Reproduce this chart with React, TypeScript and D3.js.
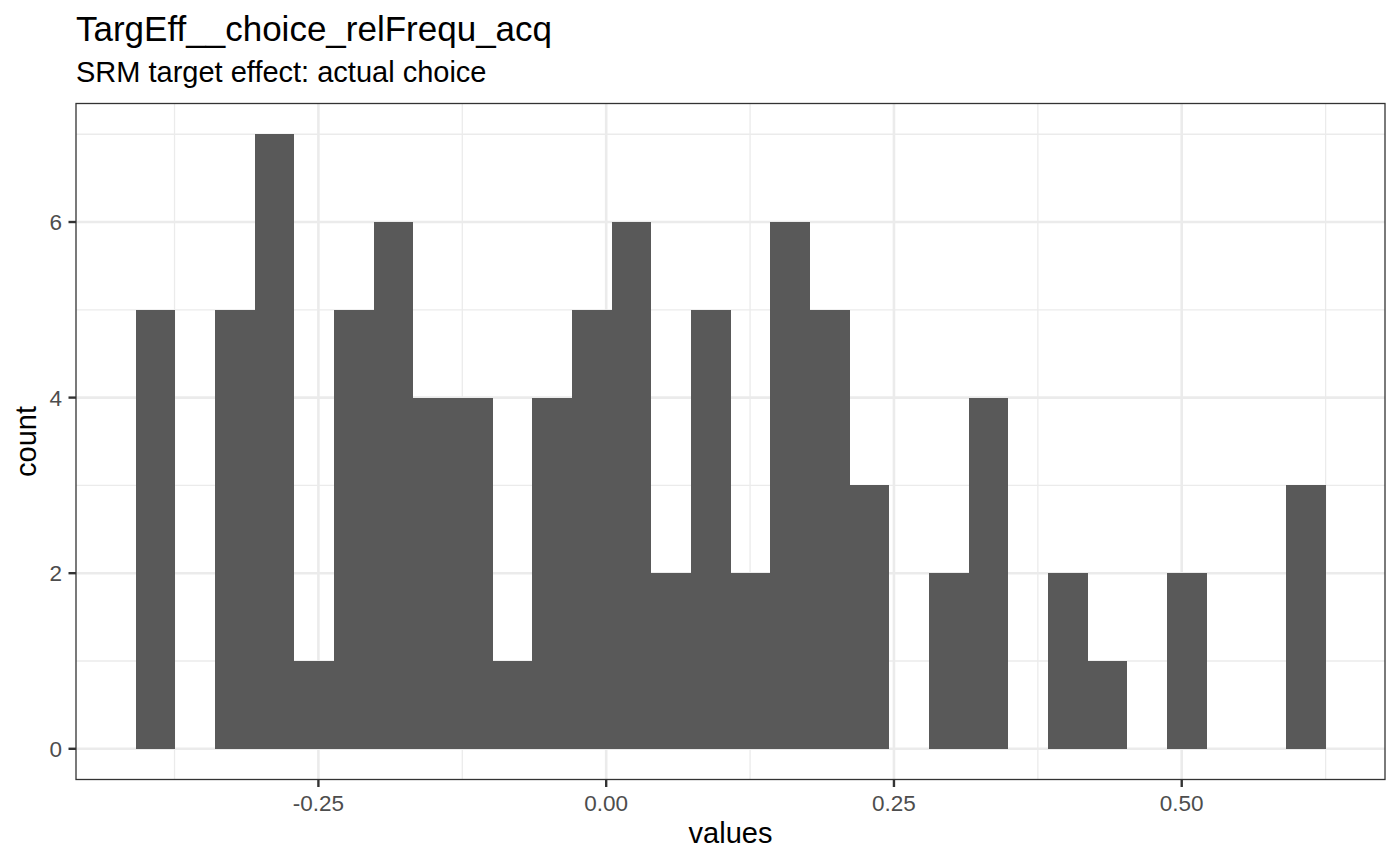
import React, { useEffect } from "react";
import * as d3 from "d3";

// ---- data ----
const titleText = "TargEff__choice_relFrequ_acq";
const subtitleText = "SRM target effect: actual choice";
const xLabel = "values";
const yLabel = "count";
const binStart = -0.4089;
const binWidth = 0.03446;
const counts = [5, 0, 5, 7, 1, 5, 6, 4, 4, 1, 4, 5, 6, 2, 5, 2, 6, 5, 3, 0, 2, 4, 0, 2, 1, 0, 2, 0, 0, 3];
const xTicks = [-0.25, 0, 0.25, 0.5];
const xTickLabels = ["-0.25", "0.00", "0.25", "0.50"];
const xMinor = [-0.375, -0.125, 0.125, 0.375, 0.625];
const yTicks = [0, 2, 4, 6];
const yMinor = [1, 3, 5, 7];

const W = 1400;
const H = 865;
const panel = { left: 76, right: 1385, top: 103.5, bottom: 779.5 };
const font = "'Liberation Sans', Arial, Helvetica, sans-serif";

export default function App() {
  useEffect(() => {
    document.body.style.margin = "0";
  }, []);

  const bins = counts.map((c, i) => ({
    x0: binStart + i * binWidth,
    x1: binStart + (i + 1) * binWidth,
    count: c,
  }));
  const dataMin = bins[0].x0;
  const dataMax = bins[bins.length - 1].x1;
  const xPad = (dataMax - dataMin) * 0.05;
  const yMax = d3.max(counts) as number;
  const yPad = yMax * 0.05;

  const x = d3.scaleLinear().domain([dataMin - xPad, dataMax + xPad]).range([panel.left, panel.right]);
  const y = d3.scaleLinear().domain([-yPad, yMax + yPad]).range([panel.bottom, panel.top]);

  return (
    <svg width={W} height={H} style={{ display: "block" }} xmlns="http://www.w3.org/2000/svg">
      <rect x={0} y={0} width={W} height={H} fill="#ffffff" />
      {/* grid */}
      <g>
        {xMinor.map((v) => (
          <line key={"xm" + v} x1={x(v)} x2={x(v)} y1={panel.top} y2={panel.bottom} stroke="#EBEBEB" strokeWidth={1.3} />
        ))}
        {yMinor.map((v) => (
          <line key={"ym" + v} x1={panel.left} x2={panel.right} y1={y(v)} y2={y(v)} stroke="#EBEBEB" strokeWidth={1.3} />
        ))}
        {xTicks.map((v) => (
          <line key={"xM" + v} x1={x(v)} x2={x(v)} y1={panel.top} y2={panel.bottom} stroke="#EBEBEB" strokeWidth={2.6} />
        ))}
        {yTicks.map((v) => (
          <line key={"yM" + v} x1={panel.left} x2={panel.right} y1={y(v)} y2={y(v)} stroke="#EBEBEB" strokeWidth={2.6} />
        ))}
      </g>
      {/* bars */}
      <g shapeRendering="crispEdges">
        {bins
          .filter((b) => b.count > 0)
          .map((b, i) => (
            <rect
              key={i}
              x={x(b.x0)}
              width={x(b.x1) - x(b.x0)}
              y={y(b.count)}
              height={y(0) - y(b.count)}
              fill="#595959"
            />
          ))}
      </g>
      {/* panel border */}
      <rect
        x={panel.left}
        y={panel.top}
        width={panel.right - panel.left}
        height={panel.bottom - panel.top}
        fill="none"
        stroke="#333333"
        strokeWidth={1.3}
      />
      {/* x axis ticks */}
      <g>
        {xTicks.map((v, i) => (
          <g key={"xt" + v}>
            <line x1={x(v)} x2={x(v)} y1={panel.bottom} y2={panel.bottom + 7.5} stroke="#333333" strokeWidth={2.4} />
            <text x={x(v)} y={811} textAnchor="middle" fontFamily={font} fontSize={22.5} fill="#4D4D4D">
              {xTickLabels[i]}
            </text>
          </g>
        ))}
      </g>
      {/* y axis ticks */}
      <g>
        {yTicks.map((v) => (
          <g key={"yt" + v}>
            <line x1={panel.left - 7.5} x2={panel.left} y1={y(v)} y2={y(v)} stroke="#333333" strokeWidth={2.4} />
            <text x={62} y={y(v)} dy="0.36em" textAnchor="end" fontFamily={font} fontSize={22.5} fill="#4D4D4D">
              {v}
            </text>
          </g>
        ))}
      </g>
      {/* axis titles */}
      <text x={(panel.left + panel.right) / 2} y={843} textAnchor="middle" fontFamily={font} fontSize={29} fill="#000000">
        {xLabel}
      </text>
      <text
        transform={`translate(36, ${(panel.top + panel.bottom) / 2}) rotate(-90)`}
        textAnchor="middle"
        fontFamily={font}
        fontSize={29}
        fill="#000000"
      >
        {yLabel}
      </text>
      {/* titles */}
      <text x={panel.left} y={41} fontFamily={font} fontSize={35} fill="#000000">
        {titleText}
      </text>
      <text x={panel.left} y={82} fontFamily={font} fontSize={29} fill="#000000">
        {subtitleText}
      </text>
    </svg>
  );
}
